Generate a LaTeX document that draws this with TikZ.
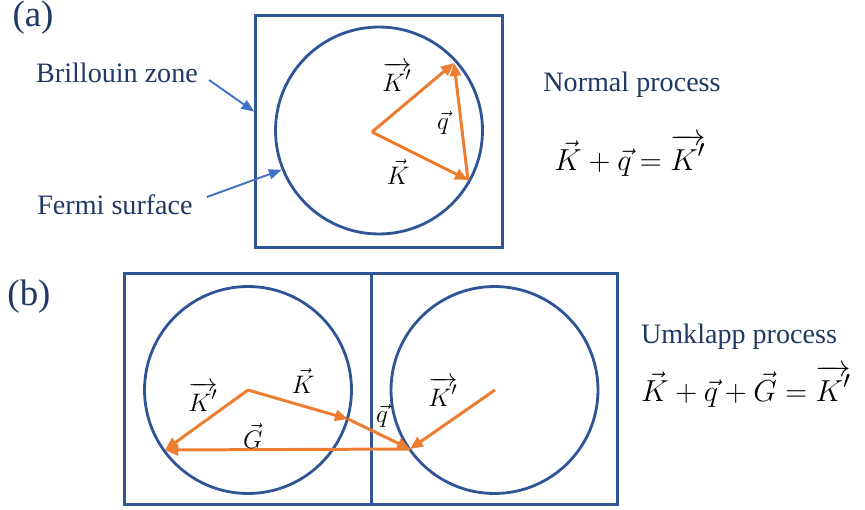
\documentclass[tikz,border=0pt]{standalone}
\usepackage{fontspec}
\setmainfont{Liberation Serif}
\newfontfamily\capfont{Liberation Serif}
\usepackage{tikz}
\usetikzlibrary{arrows.meta, positioning, calc}
\definecolor{zonedraw}{HTML}{2F5597}
\definecolor{txtcol}{HTML}{203864}
\definecolor{vecdraw}{HTML}{ED7D31}
\definecolor{ptrdraw}{HTML}{4472C4}
\tikzset{
  zone/.style={rectangle, draw=zonedraw, line width=1.6pt, inner sep=0pt, minimum width=4.93cm, minimum height=4.63cm},
  fermi/.style={circle, draw=zonedraw, line width=1.6pt, inner sep=0pt, minimum size=4.14cm},
  txt/.style={font=\capfont\fontsize{16}{19}\selectfont, text=txtcol},
  panel/.style={font=\capfont\fontsize{21}{24}\selectfont, text=txtcol},
  vlab/.style={font=\fontsize{15}{18}\selectfont},
  eqn/.style={font=\fontsize{19}{22}\selectfont},
  vec/.style={-{Triangle[length=2.6mm, width=2.2mm]}, draw=vecdraw, line width=1.7pt},
  pointer/.style={-{Triangle[length=2.6mm, width=2mm]}, draw=ptrdraw, line width=1.1pt},
}

\begin{document}
\begin{tikzpicture}[x=0.02cm, y=-0.02cm]
  \useasboundingbox (0,0) rectangle (865,510);

  % (a) normal process
  \node[panel] (pa) at (33,18) {(a)};
  \node[zone] (bz1) at (379,131.5) {};
  \node[fermi] (fs1) at (379,130.5) {};
  \node[txt] (bzlab) at (117,73) {Brillouin zone};
  \node[txt] (fslab) at (115,205) {Fermi surface};
  \draw[pointer] ([shift={(5,7)}]bzlab.east) -- (bz1.171);
  \draw[pointer] ([shift={(8,-8)}]fslab.east) -- (fs1.202);

  \coordinate (o1) at (372,132);
  \coordinate (kp1) at (454,63);
  \coordinate (k1) at (468,180);
  \draw[vec] (o1) -- (kp1);
  \draw[vec] (o1) -- (k1);
  \draw[vec] (k1) -- (kp1);
  \node[vlab] (kp1lab) at (397,77) {$\overrightarrow{K'}$};
  \node[vlab] (q1lab) at (443,123) {$\vec{q}$};
  \node[vlab] (k1lab) at (398,172) {$\vec{K}$};

  \node[txt] (nlab) at (632,85) {Normal process};
  \node[eqn] (neq) at (630,155) {$\vec{K}+\vec{q}=\overrightarrow{K'}$};

  % (b) umklapp process
  \node[panel] (pb) at (29,297) {(b)};
  \node[zone] (bz2) at (248,389) {};
  \node[zone] (bz3) at (494.5,389) {};
  \node[fermi] (fs2) at (248,390) {};
  \node[fermi] (fs3) at (494.5,390) {};

  \coordinate (o2) at (248,390);
  \coordinate (p2) at (165,450);
  \coordinate (k2) at (348,419);
  \coordinate (m2) at (410,449);
  \coordinate (o3) at (495,390);
  \draw[vec] (o2) -- (p2);
  \draw[vec] (o2) -- (k2);
  \draw[vec] (k2) -- (m2);
  \draw[vec] (o3) -- (m2);
  \draw[vec] (m2) -- (p2);
  \node[vlab] (kp2lab) at (203,397) {$\overrightarrow{K'}$};
  \node[vlab] (k2lab) at (303,381) {$\vec{K}$};
  \node[vlab] (g2lab) at (253,436) {$\vec{G}$};
  \node[vlab] (q2lab) at (382,416) {$\vec{q}$};
  \node[vlab] (kp3lab) at (443,392) {$\overrightarrow{K'}$};

  \node[txt] (ulab) at (739,337) {Umklapp process};
  \node[eqn] (ueq) at (746,386) {$\vec{K}+\vec{q}+\vec{G}=\overrightarrow{K'}$};
\end{tikzpicture}
\end{document}
